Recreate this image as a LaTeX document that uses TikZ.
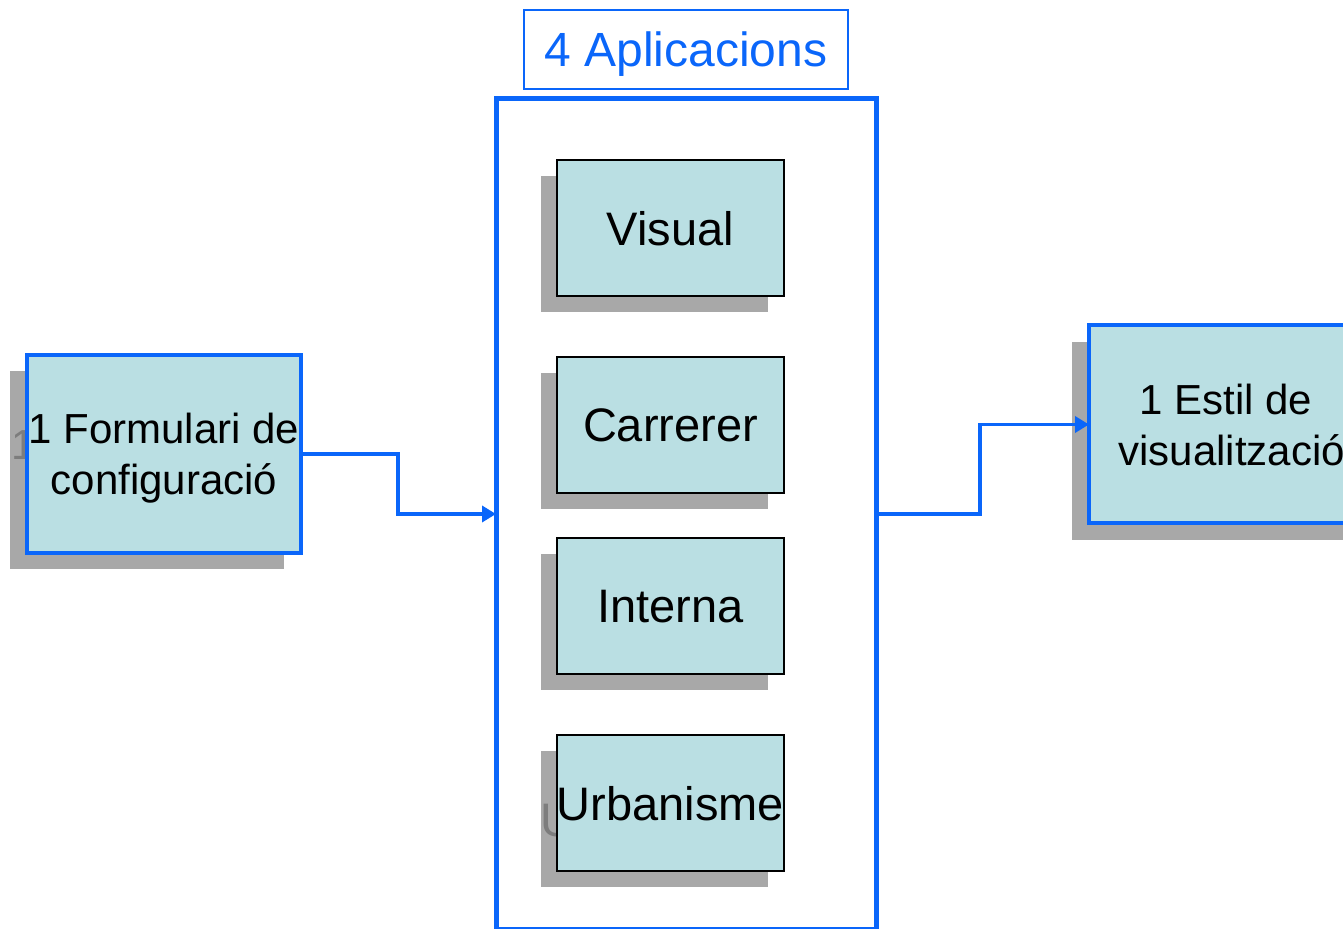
\documentclass[tikz,border=0pt]{standalone}
\usepackage{fontspec}
\setmainfont{Liberation Sans}
\usetikzlibrary{arrows.meta,positioning}
\definecolor{linkblue}{RGB}{10,102,250}
\definecolor{boxcyan}{RGB}{186,223,227}
\definecolor{shadowgray}{RGB}{168,168,168}
\definecolor{ghostgray}{RGB}{125,125,125}

\begin{document}
\begin{tikzpicture}[x=0.5pt,y=-0.5pt,every node/.style={inner sep=0,outer sep=0,text depth=0},
    appbox/.style={draw=black,line width=1pt,fill=boxcyan,minimum width=113.5pt,minimum height=68pt,font=\fontsize{23.5}{28}\selectfont},
    appshadow/.style={fill=shadowgray,text=ghostgray,minimum width=113.5pt,minimum height=68pt,font=\fontsize{23.5}{28}\selectfont},
    sidebox/.style={draw=linkblue,line width=2pt,fill=boxcyan,minimum width=137pt,minimum height=99pt,align=center,font=\fontsize{21}{25.5}\selectfont},
    sideshadow/.style={fill=shadowgray,text=ghostgray,minimum width=137pt,minimum height=99pt,align=center,font=\fontsize{21}{25.5}\selectfont},
    link/.style={linkblue,line width=1.8pt,-{Triangle[length=7pt,width=8pt]}}]
    \fill[white] (0,0) rectangle (1343,929);
    \useasboundingbox (0,0) rectangle (1343,929);
    \clip (0,0) rectangle (1343,929);

    \node [draw=linkblue,line width=2.5pt,minimum width=190pt,minimum height=415pt] (apps) at (686,514) {};
    \node [draw=linkblue,line width=0.8pt,text=linkblue,minimum width=162pt,minimum height=39.5pt,font=\fontsize{24}{28}\selectfont,above=5pt of apps] (title) {4 Aplicacions};

    \foreach \y/\n/\t in {228/visual/Visual,425/carrerer/Carrerer,606/interna/Interna,803/urban/Urbanisme} {
        \node [appshadow] (\n-sh) at (654.5,\y+16) {\t}; % shadow
        \node [appbox] (\n) at (670.5,\y) {\t};
    }

    \node [sideshadow] (form-sh) at (147,470) {1 Formulari de\\configuració};
    \node [sidebox] (form) at (164,454) {1 Formulari de\\configuració};
    \node [sideshadow] (style-sh) at (1209,441) {1 Estil de\\\ visualització};
    \node [sidebox] (style) at (1226,424.5) {1 Estil de\\\ visualització};

    \draw [link] (form.east) -- +(97,0) |- (apps.west);
    \draw [link] (apps.east) -- +(104,0) |- (style.west);
\end{tikzpicture}
\end{document}
